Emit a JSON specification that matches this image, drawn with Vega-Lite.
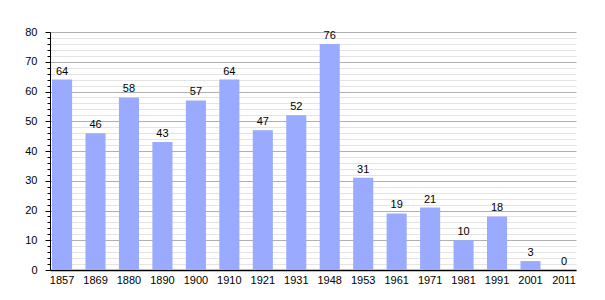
{
  "$schema": "https://vega.github.io/schema/vega-lite/v6.json",
  "width": 526,
  "height": 238,
  "autosize": "none",
  "padding": {"left": 50, "top": 32, "right": 29, "bottom": 30},
  "background": "white",
  "config": {
    "view": {"stroke": null},
    "font": "Liberation Sans",
    "axis": {"labelFont": "Liberation Sans", "labelFontSize": 11, "labelColor": "black"}
  },
  "data": {
    "values": [
      {"year": "1857", "pop": 64},
      {"year": "1869", "pop": 46},
      {"year": "1880", "pop": 58},
      {"year": "1890", "pop": 43},
      {"year": "1900", "pop": 57},
      {"year": "1910", "pop": 64},
      {"year": "1921", "pop": 47},
      {"year": "1931", "pop": 52},
      {"year": "1948", "pop": 76},
      {"year": "1953", "pop": 31},
      {"year": "1961", "pop": 19},
      {"year": "1971", "pop": 21},
      {"year": "1981", "pop": 10},
      {"year": "1991", "pop": 18},
      {"year": "2001", "pop": 3},
      {"year": "2011", "pop": 0}
    ]
  },
  "encoding": {
    "x": {
      "field": "year", "type": "nominal", "sort": null,
      "scale": {"paddingInner": 0.4, "paddingOuter": 0.06},
      "axis": {"title": null, "labelAngle": 0, "ticks": false, "labelPadding": 4, "domainColor": "black", "domainWidth": 1.5}
    }
  },
  "layer": [
    {
      "mark": {"type": "bar", "color": "#99aaff", "opacity": 0},
      "encoding": {
        "y": {
          "field": "pop", "type": "quantitative",
          "scale": {"domain": [0, 80], "nice": false},
          "axis": {"orient": "left", "title": null, "values": [2,4,6,8,12,14,16,18,22,24,26,28,32,34,36,38,42,44,46,48,52,54,56,58,62,64,66,68,72,74,76,78],
                   "labels": false, "grid": true, "gridColor": "#e4e4e4", "gridWidth": 1, "tickSize": 3, "tickColor": "black", "domain": false}
        }
      }
    },
    {
      "mark": {"type": "bar", "color": "#99aaff"},
      "encoding": {
        "y": {
          "field": "pop", "type": "quantitative",
          "scale": {"domain": [0, 80], "nice": false},
          "axis": {"orient": "left", "title": null, "values": [0,10,20,30,40,50,60,70,80], "grid": true, "gridColor": "#b0b0b0", "gridWidth": 1,
                   "tickSize": 5, "tickColor": "black", "domainColor": "black", "labelPadding": 8}
        }
      }
    },
    {
      "mark": {"type": "text", "dy": -8, "fontSize": 11, "color": "black", "font": "Liberation Sans"},
      "encoding": {
        "y": {"field": "pop", "type": "quantitative", "axis": null},
        "text": {"field": "pop", "type": "quantitative"}
      }
    }
  ],
  "resolve": {"axis": {"y": "independent"}}
}
